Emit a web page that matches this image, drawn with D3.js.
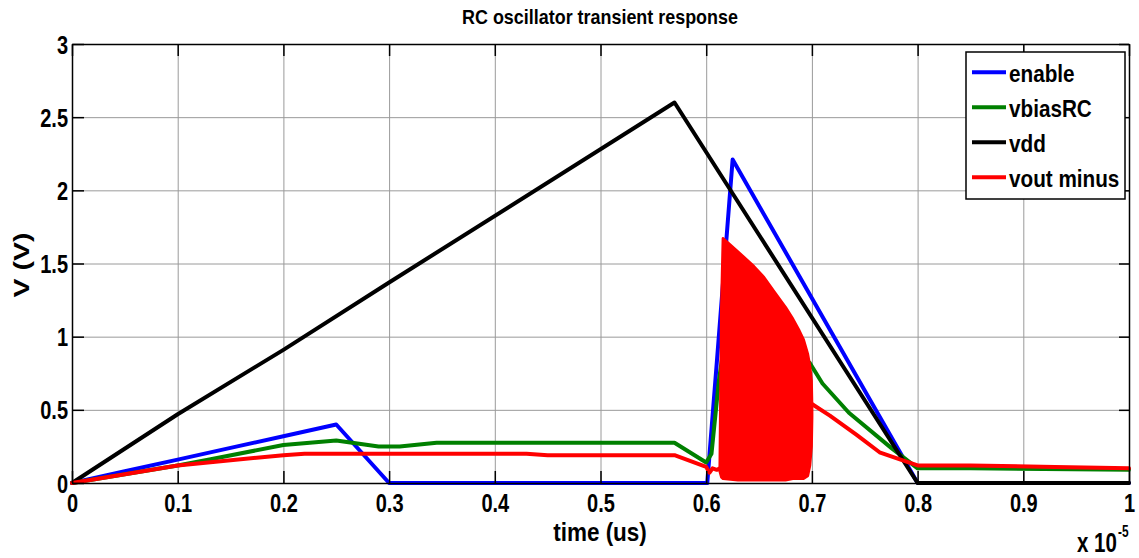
<!DOCTYPE html>
<html>
<head>
<meta charset="utf-8">
<script src="https://cdn.jsdelivr.net/npm/d3@7"></script>
<style>
  html, body { margin: 0; padding: 0; background: #fff; }
  svg { display: block; }
  text { font-family: 'Liberation Sans', Arial, Helvetica, sans-serif; font-weight: bold; fill: #000; }
</style>
</head>
<body>
<svg id="chart" width="1139" height="558"></svg>
<script>
// ---- data (time in units of 1e-5 s, voltage in V) ----
const xTickValues = [0, 0.1, 0.2, 0.3, 0.4, 0.5, 0.6, 0.7, 0.8, 0.9, 1];
const xTickLabels = ["0", "0.1", "0.2", "0.3", "0.4", "0.5", "0.6", "0.7", "0.8", "0.9", "1"];
const yTickValues = [0, 0.5, 1, 1.5, 2, 2.5, 3];
const yTickLabels = ["0", "0.5", "1", "1.5", "2", "2.5", "3"];

const seriesNames = ["enable", "vbiasRC", "vdd", "vout minus"];
const seriesColors = ["#0000ff", "#008000", "#000000", "#ff0000"];

const enableT = [0, 0.05, 0.1, 0.15, 0.2, 0.25, 0.3, 0.6, 0.601, 0.61, 0.625, 0.8, 1];
const enableV = [0, 0.08, 0.16, 0.24, 0.32, 0.40, 0, 0, 0, 0.82, 2.21, 0, 0];

const vbiasT = [0, 0.1, 0.13, 0.2, 0.25, 0.27, 0.29, 0.31, 0.345, 0.57, 0.6, 0.605, 0.612, 0.618, 0.69, 0.698, 0.71, 0.735, 0.775, 0.8, 0.85, 1];
const vbiasV = [0, 0.12, 0.16, 0.26, 0.29, 0.27, 0.25, 0.25, 0.275, 0.275, 0.14, 0.2, 0.7, 1.0, 0.86, 0.82, 0.68, 0.48, 0.24, 0.1, 0.1, 0.09];

const vddT = [0, 0.1, 0.2, 0.3, 0.57, 0.8, 1];
const vddV = [0, 0.47, 0.91, 1.37, 2.6, 0, 0];

const voutT = [0, 0.1, 0.2, 0.22, 0.43, 0.45, 0.57, 0.6, 0.603, 0.606, 0.61, 0.613, 0.7, 0.717, 0.742, 0.764, 0.786, 0.8, 0.85, 0.93, 1];
const voutV = [0, 0.12, 0.19, 0.2, 0.2, 0.19, 0.19, 0.11, 0.07, 0.1, 0.09, 0.1, 0.54, 0.46, 0.33, 0.21, 0.155, 0.12, 0.12, 0.11, 0.1];

// envelope of the dense oscillation of vout minus
const oscT = [0.613, 0.6145, 0.616, 0.63, 0.645, 0.654, 0.665, 0.675, 0.682, 0.688, 0.692, 0.696, 0.698, 0.6995, 0.7];
const oscHigh = [0.1, 1.2, 1.67, 1.58, 1.48, 1.41, 1.3, 1.2, 1.12, 1.04, 0.98, 0.88, 0.8, 0.7, 0.52];
const oscLow = [0.08, 0.04, 0.03, 0.02, 0.02, 0.02, 0.02, 0.02, 0.03, 0.03, 0.03, 0.05, 0.12, 0.25, 0.45];

// ---- layout ----
const svg = d3.select("#chart");
const L = 72, R = 1129, T = 44, B = 483;
const x = d3.scaleLinear().domain([0, 1]).range([L, R]);
const y = d3.scaleLinear().domain([0, 3]).range([B, T]);

const addText = (px, py, str, size, sx, anchor, rot) =>
  svg.append("text")
    .attr("transform", `translate(${px},${py})` + (rot ? ` rotate(${rot})` : "") + ` scale(${sx},1)`)
    .attr("text-anchor", anchor || "start").attr("font-size", size).text(str);

// grid
const grid = svg.append("g");
grid.append("g").attr("transform", `translate(0,${B})`)
  .call(d3.axisBottom(x).tickValues(xTickValues).tickSize(-(B - T)).tickFormat(""))
  .call(g => g.select(".domain").remove())
  .call(g => g.selectAll("line").attr("stroke", "#9a9a9a").attr("stroke-width", 1));
grid.append("g").attr("transform", `translate(${L},0)`)
  .call(d3.axisLeft(y).tickValues(yTickValues).tickSize(-(R - L)).tickFormat(""))
  .call(g => g.select(".domain").remove())
  .call(g => g.selectAll("line").attr("stroke", "#9a9a9a").attr("stroke-width", 1));

// series
const line = (ts, vs) => d3.line().x((d, i) => x(ts[i])).y(d => y(d))(vs);
const plots = svg.append("g");
const seriesData = [[enableT, enableV], [vbiasT, vbiasV], [vddT, vddV], [voutT, voutV]];
seriesData.forEach(([ts, vs], k) => {
  plots.append("path").attr("d", line(ts, vs))
    .attr("fill", "none").attr("stroke", seriesColors[k]).attr("stroke-width", 4)
    .attr("stroke-linejoin", "round").attr("stroke-linecap", "round");
  if (k === 3) {
    const area = d3.area().x((d, i) => x(oscT[i])).y0((d, i) => y(oscLow[i])).y1(d => y(d));
    plots.append("path").attr("d", area(oscHigh))
      .attr("fill", seriesColors[3]).attr("stroke", seriesColors[3]).attr("stroke-width", 3)
      .attr("stroke-linejoin", "round");
  }
});

// axes
const TICK_SX = 0.8;
const axisStyle = g => g.selectAll("line, path").attr("stroke", "#000").attr("stroke-width", 1.5);
svg.append("g").attr("transform", `translate(0,${B})`)
  .call(d3.axisBottom(x).tickValues(xTickValues).tickFormat((d, i) => xTickLabels[i]).tickSize(-12).tickSizeOuter(0))
  .call(axisStyle)
  .call(g => g.attr("font-family", null).attr("font-size", null))
  .call(g => g.selectAll("text").attr("font-size", 25).attr("fill", "#000")
    .attr("y", 29).attr("dy", null).attr("transform", `scale(${TICK_SX},1)`));
svg.append("g").attr("transform", `translate(0,${T})`)
  .call(d3.axisTop(x).tickValues(xTickValues).tickFormat("").tickSize(-12).tickSizeOuter(0))
  .call(axisStyle);
svg.append("g").attr("transform", `translate(${L},0)`)
  .call(d3.axisLeft(y).tickValues(yTickValues).tickFormat((d, i) => yTickLabels[i]).tickSize(-12).tickSizeOuter(0))
  .call(axisStyle)
  .call(g => g.attr("font-family", null).attr("font-size", null))
  .call(g => g.selectAll("text").attr("font-size", 25).attr("fill", "#000")
    .attr("x", -4 / TICK_SX).attr("dy", "0.36em").attr("transform", `scale(${TICK_SX},1)`));
svg.append("g").attr("transform", `translate(${R},0)`)
  .call(d3.axisRight(y).tickValues(yTickValues).tickFormat("").tickSize(-10).tickSizeOuter(0))
  .call(axisStyle);

// titles
addText(600, 24, "RC oscillator transient response", 19.5, 0.92, "middle");
addText(600, 541, "time (us)", 25, 0.9, "middle");
svg.append("text").attr("transform", "translate(29,265) rotate(-90) scale(1,0.75)")
  .attr("text-anchor", "middle").attr("font-size", 28.5).text("V (V)");
addText(1077, 552, "x 10", 27, 0.76);
addText(1118, 537, "-5", 17, 0.7);

// legend
const lg = svg.append("g");
lg.append("rect").attr("x", 966).attr("y", 52).attr("width", 159).attr("height", 147)
  .attr("fill", "#fff").attr("stroke", "#000").attr("stroke-width", 1.5);
seriesNames.forEach((name, i) => {
  const yy = 72.3 + i * 35;
  lg.append("line").attr("x1", 972).attr("x2", 1006).attr("y1", yy).attr("y2", yy)
    .attr("stroke", seriesColors[i]).attr("stroke-width", 4);
  lg.append("text").attr("transform", `translate(1009,${yy + 9.4}) scale(0.9,1)`)
    .attr("font-size", 23).text(name);
});
</script>
</body>
</html>
